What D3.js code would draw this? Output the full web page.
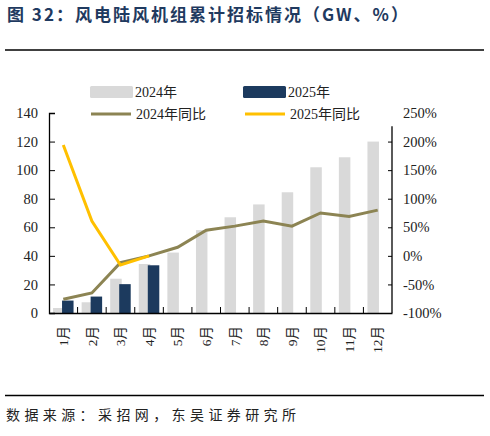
<!DOCTYPE html>
<html>
<head>
<meta charset="utf-8">
<script src="https://cdn.jsdelivr.net/npm/d3@7"></script>
<style>
  body { margin: 0; background: #fff; }
  svg text { font-family: "Liberation Serif", "Noto Sans CJK SC", serif; }
</style>
</head>
<body>
<div id="chart-container"></div>
<script>
const months = ["1月","2月","3月","4月","5月","6月","7月","8月","9月","10月","11月","12月"];
const bid2024 = [3.5, 7.5, 24, 34.3, 42.3, 58, 67, 76, 84.5, 102, 109, 120];
const bid2025 = [8.7, 11.5, 20.2, 33.4];
const yoy2024 = [-76, -65, -12, 0, 15, 45, 52, 61, 52, 75, 69, 80];
const yoy2025 = [194, 61, -16, 0];
const leftTicks = [0, 20, 40, 60, 80, 100, 120, 140];
const rightTicks = [-100, -50, 0, 50, 100, 150, 200, 250];

const W = 490, H = 436;
const margin = {top: 113, right: 98, bottom: 123, left: 49};
const width = W - margin.left - margin.right,
      height = H - margin.top - margin.bottom;

const svg = d3.select("#chart-container")
  .append("svg")
    .attr("width", W)
    .attr("height", H);

// title + rules
svg.append("text")
  .attr("x", 7).attr("y", 21)
  .style("font-family", "'Noto Sans CJK SC', sans-serif")
  .style("font-weight", "bold")
  .style("font-size", "17px")
  .style("letter-spacing", "2px")
  .style("fill", "#1f3a60")
  .text("图 32：风电陆风机组累计招标情况（GW、%）");
svg.append("line").attr("x1", 5).attr("x2", 484).attr("y1", 50).attr("y2", 50)
  .style("stroke", "#000").style("stroke-width", 1.6);
svg.append("line").attr("x1", 5).attr("x2", 484).attr("y1", 395.5).attr("y2", 395.5)
  .style("stroke", "#000").style("stroke-width", 1.6);
svg.append("text")
  .attr("x", 6).attr("y", 420)
  .style("font-family", "'Noto Sans CJK SC', sans-serif")
  .style("font-size", "14px")
  .style("letter-spacing", "4.4px")
  .style("fill", "#222")
  .text("数据来源：采招网，东吴证券研究所");

const g = svg.append("g")
  .attr("transform", "translate(" + margin.left + "," + margin.top + ")");

const x = d3.scaleBand().domain(months).range([0, width]);
const y = d3.scaleLinear().domain([0, 140]).range([height, 0]);
const y2 = d3.scaleLinear().domain([-100, 250]).range([height, 0]);
const barW = 11.5;
const offset = d3.scalePoint().domain(["2024", "2025"]).range([-4.5, 4.5]);
const cx = m => x(m) + x.bandwidth() / 2;

// bars
g.selectAll(".b24")
  .data(bid2024.map((v, i) => ({m: months[i], v: v})))
  .enter().append("rect")
    .attr("x", d => cx(d.m) + offset("2024") - barW / 2)
    .attr("y", d => y(d.v))
    .attr("width", barW)
    .attr("height", d => height - y(d.v))
    .style("fill", "#d9d9d9");
g.selectAll(".b25")
  .data(bid2025.map((v, i) => ({m: months[i], v: v})))
  .enter().append("rect")
    .attr("x", d => cx(d.m) + offset("2025") - barW / 2)
    .attr("y", d => y(d.v))
    .attr("width", barW)
    .attr("height", d => height - y(d.v))
    .style("fill", "#1c3a5e");

// lines
const line = d3.line().x(d => cx(d.m)).y(d => y2(d.v));
g.append("path")
  .datum(yoy2024.map((v, i) => ({m: months[i], v: v})))
  .attr("d", line)
  .style("fill", "none").style("stroke", "#8c8453").style("stroke-width", 3);
g.append("path")
  .datum(yoy2025.map((v, i) => ({m: months[i], v: v})))
  .attr("d", line)
  .style("fill", "none").style("stroke", "#ffc000").style("stroke-width", 3);

// axes
const axL = g.append("g")
  .call(d3.axisLeft(y).tickValues(leftTicks).tickSize(-6).tickPadding(11));
axL.selectAll("text").style("font-size", "14.5px").style("fill", "#222");

const axR = g.append("g")
  .attr("transform", "translate(" + width + ",0)")
  .call(d3.axisRight(y2).tickValues(rightTicks).tickFormat(d => d + "%").tickSize(-4).tickPadding(11));
axR.select(".domain").attr("d", "M0," + y2(227) + "V" + height);
axR.selectAll(".tick").filter(d => d === 250).select("line").remove();
axR.selectAll("text").style("font-size", "14.5px").style("fill", "#222");

const axB = g.append("g")
  .attr("transform", "translate(0," + height + ")")
  .call(d3.axisBottom(x).tickSize(0).tickSizeOuter(0));
axB.selectAll("text")
  .attr("transform", "rotate(-90)")
  .attr("x", -13).attr("y", 0).attr("dy", "0.35em")
  .style("text-anchor", "end")
  .style("font-size", "13.5px").style("fill", "#222");
g.selectAll(".xt")
  .data(d3.range(1, months.length))
  .enter().append("line")
    .attr("x1", i => x(months[i])).attr("x2", i => x(months[i]))
    .attr("y1", height).attr("y2", height - 6)
    .style("stroke", "#000");
g.selectAll(".domain").style("stroke", "#000").style("stroke-width", 1.3);

// legend
const legend = svg.append("g").style("font-size", "14px");
const items = [
  {label: "2024年", type: "rect", color: "#d9d9d9", x: 90, y: 92},
  {label: "2025年", type: "rect", color: "#1c3a5e", x: 243, y: 92},
  {label: "2024年同比", type: "line", color: "#8c8453", x: 91, y: 114},
  {label: "2025年同比", type: "line", color: "#ffc000", x: 245, y: 114}
];
items.forEach(function(it) {
  if (it.type === "rect") {
    legend.append("rect").attr("x", it.x).attr("y", it.y - 6).attr("width", 43).attr("height", 12)
      .attr("rx", 1.5).style("fill", it.color);
  } else {
    legend.append("line").attr("x1", it.x).attr("x2", it.x + 40).attr("y1", it.y).attr("y2", it.y)
      .style("stroke", it.color).style("stroke-width", 3);
  }
  legend.append("text").attr("x", it.x + 45).attr("y", it.y).attr("dy", "0.35em")
    .style("fill", "#222").text(it.label);
});
</script>
</body>
</html>
